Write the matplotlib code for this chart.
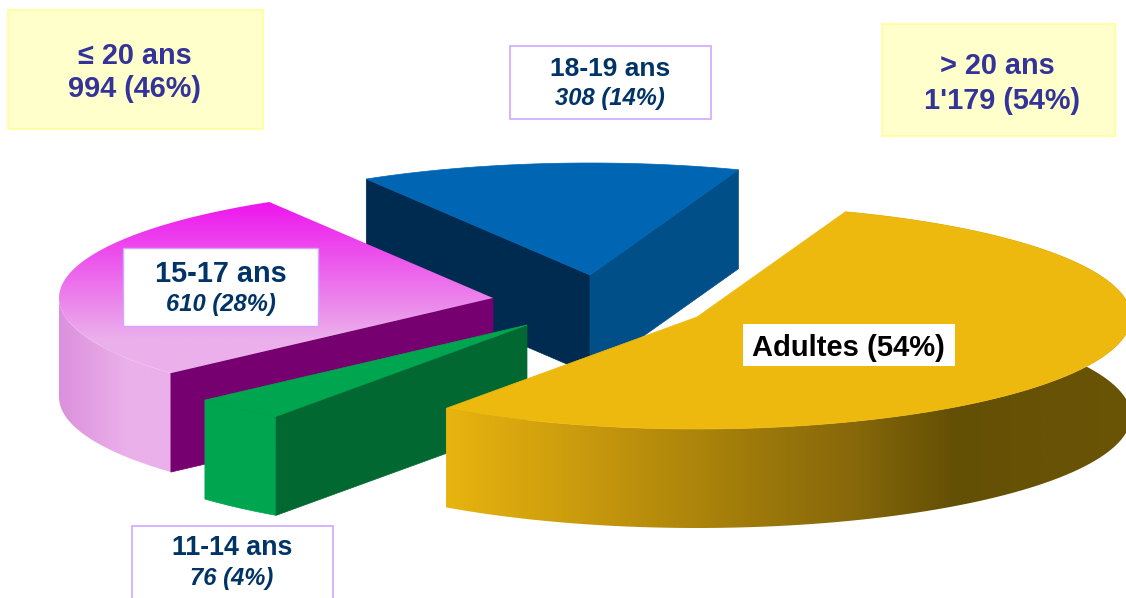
import numpy as np
from matplotlib import pyplot as plt
from matplotlib.colors import LinearSegmentedColormap
from matplotlib.patches import Polygon, Rectangle

plt.rcParams['font.family'] = ['Liberation Sans', 'DejaVu Sans']

# data, clockwise from the back of the pie
groups = ['Adultes', '11-14 ans', '15-17 ans', '18-19 ans']
counts = np.array([1179, 76, 610, 308])
percents = [54, 4, 28, 14]
total_low = 994
total_low_pct = 46
total_high = 1179
total_high_pct = 54

# exploded position of each slice
apex_x = [697, 527, 493, 590]
apex_y = [317, 325, 298, 275]

start_angle = 70
rx, ry = 434, 112
depth = 99
navy = '#003366'
indigo = '#333399'
lilac = '#D0A8FF'

fig = plt.figure(figsize=(11.26, 5.98), dpi=100)
ax = fig.add_axes([0, 0, 1, 1])


def arc(i, a0, a1):
    t = np.radians(np.linspace(a0, a1, 120))
    return np.column_stack([apex_x[i] + rx * np.cos(t), apex_y[i] + ry * np.sin(t)])


def drop(pts):
    return pts + np.array([0, depth])


def flat(pts, color, z):
    ax.add_patch(Polygon(pts, closed=True, fc=color, ec=color, lw=0.5, zorder=z))


def wall(i, a, color, z):
    # flat cut face between the rim at angle a and the apex
    rim = arc(i, a, a)[:1]
    top = np.vstack([rim, [[apex_x[i], apex_y[i]]]])
    flat(np.vstack([top, drop(top)[::-1]]), color, z)


def shaded(pts, stops, vertical, z):
    cmap = LinearSegmentedColormap.from_list('s', stops)
    x0, x1 = pts[:, 0].min(), pts[:, 0].max()
    y0, y1 = pts[:, 1].min(), pts[:, 1].max()
    g = np.linspace(0, 1, 256)
    g = g[:, None] if vertical else g[None, :]
    im = ax.imshow(g, cmap=cmap, extent=[x0, x1, y1, y0], origin='upper',
                   aspect='auto', zorder=z, interpolation='bilinear')
    p = Polygon(pts, closed=True, transform=ax.transData, fc='none', ec='none')
    ax.add_patch(p)
    im.set_clip_path(p)


# angles of each slice in the squashed circle (screen y goes down)
sweep = 360 * counts / counts.sum()
edges = start_angle - np.concatenate([[0], np.cumsum(sweep)])
a = [(-edges[i], -edges[i + 1]) for i in range(4)]


def top_pts(i):
    return np.vstack([arc(i, *a[i]), [[apex_x[i], apex_y[i]]]])


def side_pts(i, a0, a1):
    r = arc(i, a0, a1)
    return np.vstack([r, drop(r)[::-1]])


# 18-19 ans
wall(3, a[3][0], '#002B50', 1)
wall(3, a[3][1], '#004F88', 1.1)
flat(top_pts(3), '#0066B3', 1.2)

# 15-17 ans
shaded(side_pts(2, a[2][0], 180),
       [(0, '#DC90DC'), (0.6, '#EAB0EA'), (1, '#EAB0EA')], False, 2)
wall(2, a[2][0], '#770070', 2.1)
shaded(top_pts(2), [(0, '#EE14EE'), (0.8, '#EBB0EB'), (1, '#EBB0EB')], True, 2.2)

# 11-14 ans
flat(side_pts(1, a[1][0], a[1][1]), '#00A550', 3)
wall(1, a[1][0], '#006830', 3.1)
flat(top_pts(1), '#00A550', 3.2)

# adultes
shaded(side_pts(0, a[0][0], a[0][1]),
       [(0, '#E8B40F'), (0.23, '#C4960D'), (0.37, '#AB840B'), (0.6, '#86670A'),
        (0.74, '#645005'), (1, '#6A5405')],
       False, 4)
flat(top_pts(0), '#EEB90F', 4.2)


def box(x0, y0, x1, y1, fc, ec, lw=1.2):
    ax.add_patch(Rectangle((x0, y0), x1 - x0, y1 - y0, fc=fc, ec=ec, lw=lw, zorder=5))


def label(x, y, s, size=20.8, color=navy, style='normal'):
    ax.text(x, y, s, ha='center', va='center', fontsize=size, fontweight='bold',
            fontstyle=style, color=color, zorder=6)


box(8, 10, 263, 129, '#FFFFCC', '#FFFF99')
label(135, 56, '≤ 20 ans', 20.8, indigo)
label(135, 89, f'{total_low} ({total_low_pct}%)', 20.8, indigo)

box(882, 24, 1115, 136, '#FFFFCC', '#FFFF99')
label(997, 66, '> 20 ans', 20.8, indigo)
label(1002, 101, f"1'{total_high - 1000} ({total_high_pct}%)", 20.8, indigo)

box(510, 46, 711, 119, 'white', lilac)
label(610, 69, groups[3], 19)
label(610, 98, f'{counts[3]} ({percents[3]}%)', 17.1, style='italic')

box(123, 248, 318, 326, 'white', lilac, 1)
label(221, 274, groups[2], 20.8)
label(221, 305, f'{counts[2]} ({percents[2]}%)', 17.1, style='italic')

box(132, 526, 333, 640, 'white', lilac)
label(232, 548, groups[1], 19.3)
label(232, 578, f'{counts[1]} ({percents[1]}%)', 17.1, style='italic')

box(743, 324, 955, 366, 'white', 'white', 0)
label(848, 348, f'{groups[0]} ({percents[0]}%)', 21, 'black')

ax.set_xlim(0, 1126)
ax.set_ylim(598, 0)
ax.axis('off')
fig.savefig('out.png', dpi=100)
